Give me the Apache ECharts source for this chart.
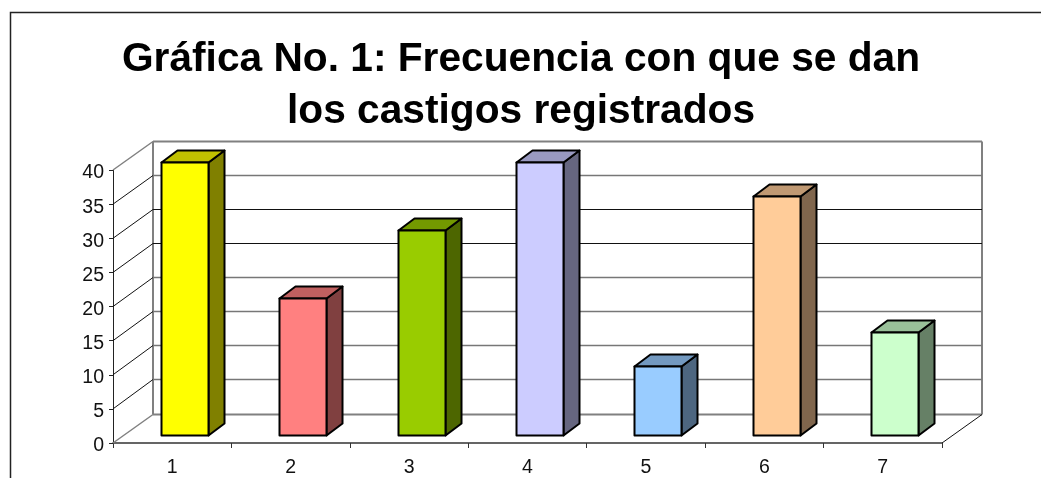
<!DOCTYPE html>
<html>
<head>
<meta charset="utf-8">
<style>
  html, body { margin: 0; padding: 0; background: #fff; }
  #chart { width: 1041px; height: 478px; }
</style>
<script src="https://cdn.jsdelivr.net/npm/echarts@6/dist/echarts.min.js"></script>
</head>
<body>
<div id="chart"></div>
<script>
const categories = ["1", "2", "3", "4", "5", "6", "7"];
const values = [40, 20, 30, 40, 10, 35, 15];
const gridTicks = [0, 5, 10, 15, 20, 25, 30, 35, 40];
const frontColors = ["#ffff00", "#ff8080", "#99cc00", "#ccccff", "#99ccff", "#ffcc99", "#ccffcc"];
const sideColors = ["#808000", "#804040", "#4d6600", "#666680", "#4d6680", "#80664d", "#668066"];
const topColors = ["#c0c000", "#c06060", "#739900", "#9999c0", "#7399c0", "#c09973", "#99c099"];
const gridLineColors = ["#808080", "#777777", "#777777", "#777777", "#777777", "#111111", "#111111", "#777777", "#808080"];
const gridLineWidths = [2, 1.5, 1.5, 1.5, 1.5, 1, 1, 1.5, 2];

// profundidad del "3D" en pixeles
const wallDx = 40, wallDy = -29;
const barDx = 16, barDy = -12;
const barOffX = 12, barOffY = -8;
const barW = 47;

const chart = echarts.init(document.getElementById("chart"), null, { renderer: "canvas" });

function wallY(y) {
  return Math.floor(y + wallDy) + 0.5;
}

function renderWall(params, api) {
  const tick = api.value(0);
  const band = api.size([1, 0])[0];
  const first = api.coord([0, tick]);
  const last = api.coord([6, tick]);
  const xL = first[0] - band / 2;
  const xR = last[0] + band / 2;
  const y = first[1];
  const isEdge = tick === 0 || tick === 40;
  const children = [
    {
      type: "line",
      shape: { x1: xL, y1: y, x2: xL + wallDx, y2: wallY(y) },
      style: { stroke: isEdge ? "#808080" : "#111111", lineWidth: isEdge ? 1.5 : 1 },
    },
    {
      type: "line",
      shape: { x1: xL + wallDx, y1: wallY(y), x2: xR + wallDx, y2: wallY(y) },
      style: { stroke: gridLineColors[params.dataIndex], lineWidth: gridLineWidths[params.dataIndex] },
    },
  ];
  if (tick === 0) {
    const yTop = api.coord([0, 40])[1];
    children.push(
      {
        type: "line",
        shape: { x1: xL + wallDx, y1: wallY(y), x2: xL + wallDx, y2: wallY(yTop) },
        style: { stroke: "#808080", lineWidth: 2 },
      },
      {
        type: "line",
        shape: { x1: xR + wallDx, y1: wallY(y), x2: xR + wallDx, y2: wallY(yTop) },
        style: { stroke: "#808080", lineWidth: 2 },
      },
      {
        type: "line",
        shape: { x1: xR, y1: y, x2: xR + wallDx, y2: wallY(y) },
        style: { stroke: "#111111", lineWidth: 1 },
      }
    );
  }
  return { type: "group", children };
}

function renderBar(params, api) {
  const i = params.dataIndex;
  const top = api.coord([i, api.value(1)]);
  const base = api.coord([i, 0]);
  const x0 = Math.round(top[0] + barOffX - barW / 2) + 0.5;
  const x1 = x0 + barW;
  const yT = Math.floor(top[1] + barOffY) + 0.5;
  const yB = Math.floor(base[1] + barOffY) + 0.5;
  const edge = { stroke: "#000", lineWidth: 2, lineJoin: "round" };
  return {
    type: "group",
    children: [
      {
        type: "polygon",
        shape: { points: [[x1, yT], [x1 + barDx, yT + barDy], [x1 + barDx, yB + barDy], [x1, yB]] },
        style: { fill: sideColors[i], ...edge },
      },
      {
        type: "polygon",
        shape: { points: [[x0, yT], [x0 + barDx, yT + barDy], [x1 + barDx, yT + barDy], [x1, yT]] },
        style: { fill: topColors[i], ...edge },
      },
      {
        type: "rect",
        shape: { x: x0, y: yT, width: barW, height: yB - yT },
        style: { fill: frontColors[i], ...edge },
      },
    ],
  };
}

chart.setOption({
  animation: false,
  backgroundColor: "#fff",
  title: {
    text: "Gráfica No. 1: Frecuencia con que se dan\nlos castigos registrados",
    left: 516,
    top: 29,
    textAlign: "center",
    textStyle: {
      fontFamily: "Liberation Sans",
      fontSize: 40.7,
      fontWeight: "bold",
      color: "#000",
      lineHeight: 52,
    },
  },
  grid: { left: 113, top: 170, width: 829, height: 274 },
  xAxis: {
    type: "category",
    data: categories,
    boundaryGap: true,
    axisLine: { lineStyle: { color: "#333", width: 1.5 } },
    axisTick: { show: true, length: 5, lineStyle: { color: "#333" } },
    axisLabel: { color: "#111", fontFamily: "Liberation Sans", fontSize: 19.5, margin: 15, interval: 0 },
    splitLine: { show: false },
  },
  yAxis: {
    type: "value",
    min: 0,
    max: 40,
    interval: 5,
    axisLine: { show: true, lineStyle: { color: "#222" } },
    axisTick: { show: true, length: 4, lineStyle: { color: "#222" } },
    axisLabel: { color: "#111", fontFamily: "Liberation Sans", fontSize: 19.5, margin: 9, lineHeight: 20, verticalAlign: "top", padding: [-7, 0, 0, 0] },
    splitLine: { show: false },
  },
  series: [
    {
      type: "custom",
      renderItem: renderWall,
      data: gridTicks.map((t) => [t]),
      encode: { y: 0 },
      clip: false,
      silent: true,
      z: 1,
    },
    {
      type: "custom",
      renderItem: renderBar,
      data: values.map((v, i) => [i, v]),
      encode: { x: 0, y: 1 },
      clip: false,
      z: 3,
    },
  ],
  graphic: [
    {
      type: "polyline",
      shape: { points: [[10.5, 478], [10.5, 12.5], [1041, 12.5]] },
      style: { stroke: "#222", lineWidth: 1.5, fill: null },
      silent: true,
    },
  ],
});
</script>
</body>
</html>
